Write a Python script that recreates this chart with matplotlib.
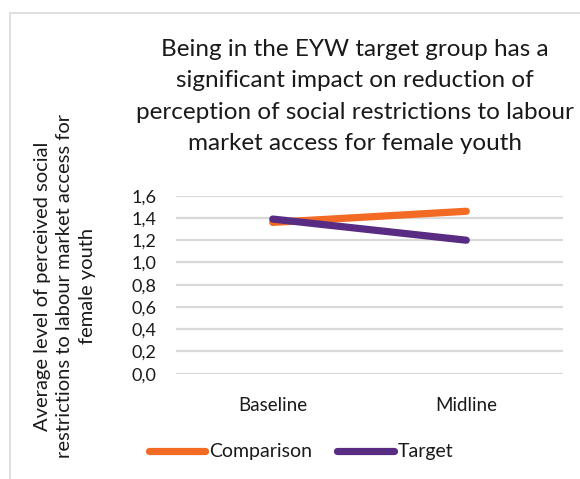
import matplotlib
matplotlib.use("Agg")
import matplotlib.pyplot as plt
from matplotlib.patches import Rectangle
from matplotlib.lines import Line2D

# Data
categories = ["Baseline", "Midline"]
comparison = [1.36, 1.46]
target = [1.39, 1.20]
yticks = [0.0, 0.2, 0.4, 0.6, 0.8, 1.0, 1.2, 1.4, 1.6]
ytick_labels = [f"{v:.1f}".replace(".", ",") for v in yticks]

title = ("Being in the EYW target group has a\n"
         "significant impact on reduction of\n"
         "perception of social restrictions to labour\n"
         "market access for female youth")
ylabel = ("Average level of perceived social\n"
          "restrictions to labour market access for\n"
          "female youth")

FONT = "Lato"
ORANGE = "#F26A23"
PURPLE = "#582C83"
GRID = "#D9D9D9"
TEXT = "#1A1A1A"

W, H = 580, 479
fig = plt.figure(figsize=(W / 100, H / 100), dpi=100)
fig.patch.set_facecolor("white")

# chart frame
fig.patches.append(Rectangle((9.5 / W, -0.05), 1.0, 1 - 12.5 / H + 0.05,
                             transform=fig.transFigure, fill=False,
                             edgecolor=GRID, linewidth=1.2))

ax = fig.add_axes([176 / W, 1 - 373.7 / H, 387 / W, (373.7 - 195.7) / H])
x = [0.5, 1.5]
ax.plot(x, comparison, color=ORANGE, lw=5.2, solid_capstyle="round", zorder=3)
ax.plot(x, target, color=PURPLE, lw=5.2, solid_capstyle="round", zorder=4)
ax.set_xlim(0, 2)
ax.set_ylim(0, 1.6)
ax.set_yticks(yticks)
ax.set_yticklabels(ytick_labels, fontfamily=FONT, fontsize=13, color=TEXT)
ax.set_xticks(x)
ax.set_xticklabels(categories, fontfamily=FONT, fontsize=13.5, color=TEXT)
ax.tick_params(axis="both", length=0)
ax.tick_params(axis="y", pad=14)
ax.tick_params(axis="x", pad=17)
for s in ax.spines.values():
    s.set_visible(False)
ax.yaxis.grid(True, color=GRID, lw=1.6)
ax.set_axisbelow(True)
ax.set_facecolor("none")

fig.text(355 / W, 1 - 96.5 / H, title, ha="center", va="center",
         fontfamily=FONT, fontsize=17.5, color=TEXT, linespacing=1.62)

fig.text(65 / W, 1 - 286 / H, ylabel, ha="center", va="center", rotation=90,
         fontfamily=FONT, fontsize=14.5, color=TEXT, linespacing=1.4,
         multialignment="center")

handles = [Line2D([], [], color=ORANGE, lw=5.2, solid_capstyle="round"),
           Line2D([], [], color=PURPLE, lw=5.2, solid_capstyle="round")]
leg = fig.legend(handles, ["Comparison", "Target"], loc="center",
                 bbox_to_anchor=(301 / W, 1 - 452 / H), ncol=2, frameon=False,
                 prop={"family": FONT, "size": 14}, handlelength=2.9,
                 handletextpad=0.2, columnspacing=1.3)
for t in leg.get_texts():
    t.set_color(TEXT)

fig.savefig("out.png", dpi=100)
